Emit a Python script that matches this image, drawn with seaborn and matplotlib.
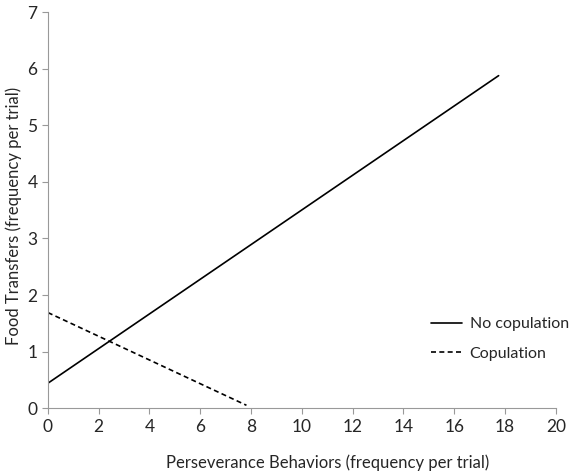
import pandas as pd
import seaborn as sns
from matplotlib import pyplot as plt

# end points of the two fitted lines
no_cop_x = [0, 17.75]
no_cop_y = [0.44, 5.88]
cop_x = [0, 7.82]
cop_y = [1.69, 0.05]

df = pd.DataFrame({
    'Perseverance': no_cop_x + cop_x,
    'Food': no_cop_y + cop_y,
    'Group': ['No copulation'] * 2 + ['Copulation'] * 2,
})

sns.set_style('white')
plt.rcParams['font.family'] = ['Lato', 'DejaVu Sans']

fig = plt.figure(figsize=(5.7, 4.74), dpi=100)
ax = fig.add_axes([0.084, 0.139, 0.891, 0.835])

sns.lineplot(data=df, x='Perseverance', y='Food', style='Group',
             style_order=['No copulation', 'Copulation'],
             dashes={'No copulation': '', 'Copulation': (3, 2)},
             color='black', linewidth=1.2, ax=ax)

ax.set_xlim(0, 20)
ax.set_ylim(0, 7)
ax.set_xticks(range(0, 21, 2))
ax.set_yticks(range(0, 8))
ax.set_xlabel('Perseverance Behaviors (frequency per trial)', fontsize=12)
ax.set_ylabel('Food Transfers (frequency per trial)', fontsize=12)
ax.xaxis.set_label_coords(0.551, -0.118)
ax.yaxis.set_label_coords(-0.05, 0.485)
ax.tick_params(axis='both', labelsize=12.5, direction='out', length=4,
               color='#999999', width=0.8, bottom=True, left=True)
sns.despine(ax=ax)
for s in ['left', 'bottom']:
    ax.spines[s].set_color('#999999')
    ax.spines[s].set_linewidth(0.8)

leg = ax.legend(loc='upper left', bbox_to_anchor=(0.755, 0.23), frameon=False,
                fontsize=11.5, handlelength=1.9, handletextpad=0.5,
                labelspacing=0.95, borderpad=0, borderaxespad=0)

fig.savefig('out.png', dpi=100)
